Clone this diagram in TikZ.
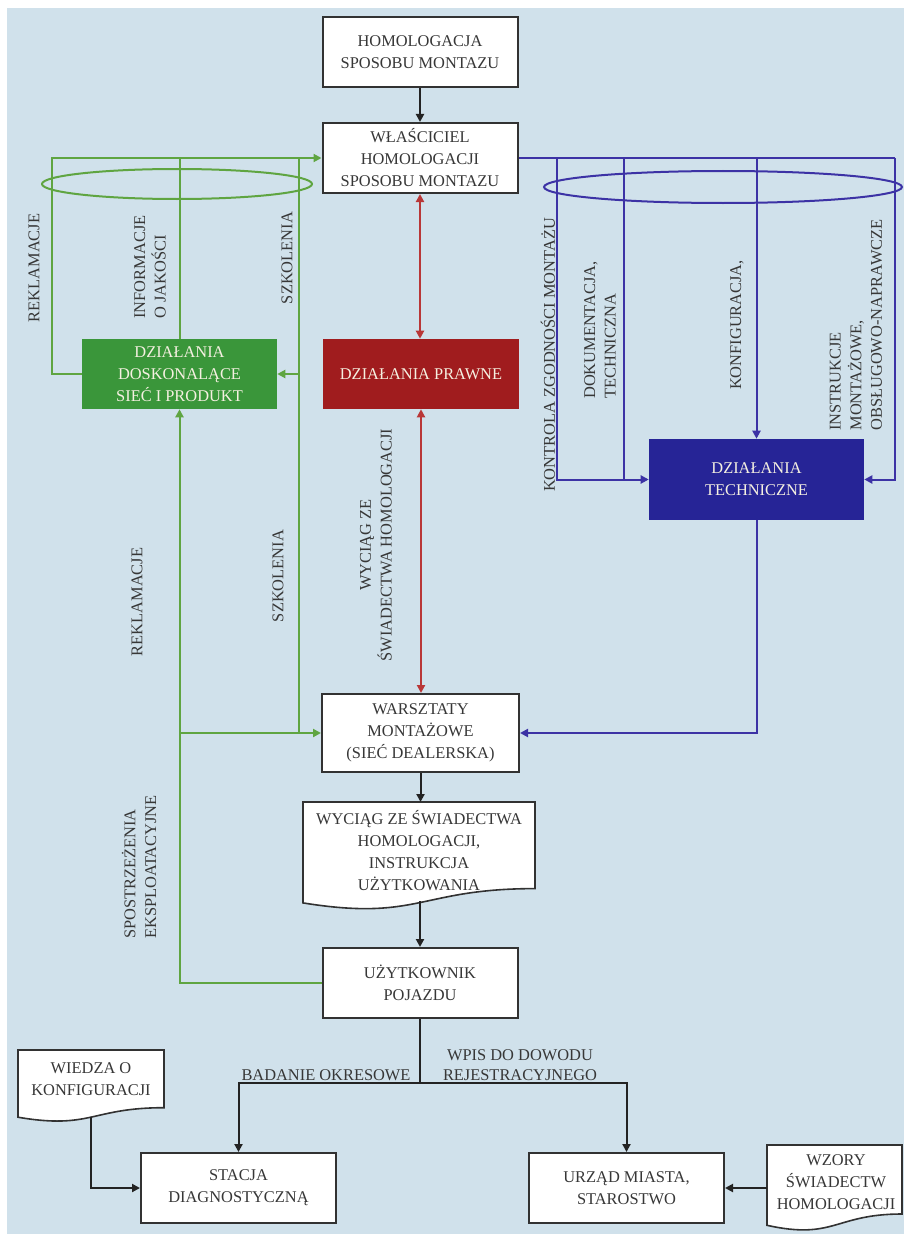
\documentclass[tikz,border=0pt]{standalone}
\usepackage{fontspec}
\setmainfont{Liberation Serif}
\usetikzlibrary{arrows.meta,calc}
\definecolor{bgc}{RGB}{208,225,235}
\definecolor{gboxc}{RGB}{58,150,58}
\definecolor{glinec}{RGB}{95,165,65}
\definecolor{rboxc}{RGB}{160,28,30}
\definecolor{rlinec}{RGB}{185,55,55}
\definecolor{bboxc}{RGB}{38,36,150}
\definecolor{blinec}{RGB}{60,50,165}
\definecolor{klinec}{RGB}{35,35,35}
\definecolor{borderc}{RGB}{50,50,50}
\definecolor{txtc}{RGB}{55,55,55}
\definecolor{lighttxtc}{RGB}{245,240,225}
\tikzset{
  mainfont/.style={font=\fontsize{12.3}{16.5}\selectfont},
  box/.style={draw=borderc, line width=1.5pt, fill=white, minimum width=146.25pt,
    minimum height=52.5pt, inner sep=0pt, align=center, text=txtc, mainfont},
  cbox/.style={draw=none, minimum width=146.25pt, minimum height=52.5pt, inner sep=0pt,
    align=center, text=lighttxtc, mainfont},
  docshape/.style={draw=borderc, line width=1.2pt, fill=white},
  doctext/.style={inner sep=0pt, align=center, text=txtc, mainfont},
  lab/.style={inner sep=0pt, text=txtc, rotate=90, font=\fontsize{12.3}{15.5}\selectfont},
  hlab/.style={inner sep=1pt, text=txtc, font=\fontsize{12.3}{15}\selectfont},
  arr/.style={-{Triangle[length=6pt,width=6pt]}},
  darr/.style={{Triangle[length=6pt,width=6pt]}-{Triangle[length=6pt,width=6pt]}},
  kpath/.style={draw=klinec, line width=1.5pt},
  gpath/.style={draw=glinec, line width=1.5pt},
  bpath/.style={draw=blinec, line width=1.5pt},
  rpath/.style={draw=rlinec, line width=1.5pt},
}
\begin{document}
\begin{tikzpicture}[x=0.75pt,y=-0.75pt]
\fill[white] (0,0) rectangle (904,1234);
\fill[bgc] (7,8) rectangle (904,1234);
\useasboundingbox (0,0) rectangle (904,1234);

% ellipses (behind)
\draw[gpath] (177,184) ellipse [x radius=101.25pt, y radius=11.25pt];
\draw[bpath] (723,187) ellipse [x radius=134.25pt, y radius=12pt];

% boxes
\node[box] (homol) at (420,52.5) {HOMOLOGACJA\\SPOSOBU MONTAZU};
\node[box] (owner) at (420,158) {WŁAŚCICIEL\\HOMOLOGACJI\\SPOSOBU MONTAZU};
\node[cbox, fill=gboxc] (green) at (179.5,374) {DZIAŁANIA\\DOSKONALĄCE\\SIEĆ I PRODUKT};
\node[cbox, fill=rboxc, minimum width=147pt] (legal) at (421,374) {DZIAŁANIA PRAWNE};
\node[cbox, fill=bboxc, minimum width=161.25pt, minimum height=60.75pt] (tech) at (756.5,479.5) {DZIAŁANIA\\TECHNICZNE};
\node[box, minimum width=147.75pt, minimum height=58.5pt] (works) at (420.5,733) {WARSZTATY\\MONTAŻOWE\\(SIEĆ DEALERSKA)};
\node[box] (user) at (420,983) {UŻYTKOWNIK\\POJAZDU};
\node[box] (stacja) at (238.5,1188) {STACJA\\DIAGNOSTYCZNĄ};
\node[box] (urzad) at (626.5,1188) {URZĄD MIASTA,\\STAROSTWO};

% documents
\draw[docshape] (303,802) -- (535,802) -- (535,888.6) .. controls (419,888.6) and (419,921.6) .. (303,902.9) -- cycle;
\node[doctext] (doc) at (419,851) {WYCIĄG ZE ŚWIADECTWA\\HOMOLOGACJI,\\INSTRUKCJA\\UŻYTKOWANIA};
\coordinate (doctop) at (420.5,802);
\coordinate (docbot) at (420,901);

\draw[docshape] (18,1050) -- (164,1050) -- (164,1107.7) .. controls (91,1107.7) and (91,1129.7) .. (18,1117.2) -- cycle;
\node[doctext] (wiedza) at (91,1079) {WIEDZA O\\KONFIGURACJI};
\coordinate (wiedzabot) at (91,1117);

\draw[docshape] (767,1145) -- (902,1145) -- (902,1214) .. controls (834.5,1214) and (834.5,1240.2) .. (767,1225.3) -- cycle;
\node[doctext] (wzory) at (836,1182) {WZORY\\ŚWIADECTW\\HOMOLOGACJI};
\coordinate (wzoryw) at (767,1188);

% black connectors
\draw[kpath,arr] (homol.south) -- (owner.north);
\draw[kpath,arr] (works.south) -- (doctop);
\draw[kpath,arr] (docbot) -- (user.north);
\coordinate (split) at (420,1083);
\draw[kpath] (user.south) -- (split);
\draw[kpath,arr] (split) -| (stacja.north);
\draw[kpath,arr] (split) -| (urzad.north);
\draw[kpath,arr] (wiedzabot) |- (stacja.west);
\draw[kpath,arr] (wzoryw) -- (urzad.east);

% red connectors
\draw[rpath,darr] (owner.south) -- (owner.south |- legal.north);
\draw[rpath,darr] (legal.south) -- (legal.south |- works.north);

% green connectors
\coordinate (gleft) at (52,158);
\coordinate (gmid) at (179.5,158);
\coordinate (gright) at (299,158);
\draw[gpath,arr] (green.west) -| (gleft) -- (owner.west);
\draw[gpath] (green.north) -- (gmid);
\draw[gpath,arr] (gright) |- (works.west);
\draw[gpath,arr] (gright |- green.east) -- (green.east);
\draw[gpath] (green.south |- works.west) -- (gright |- works.west);
\draw[gpath,arr] (user.west) -| (green.south);

% blue connectors
\coordinate (bA) at (557,158);
\coordinate (bB) at (624,158);
\coordinate (bC) at (756.5,158);
\coordinate (bD) at (895,158);
\draw[bpath] (owner.east) -- (bD);
\draw[bpath,arr] (bA) |- (tech.west);
\draw[bpath] (bB) -- (bB |- tech.west);
\draw[bpath,arr] (bC) -- (tech.north);
\draw[bpath,arr] (bD) |- (tech.east);
\draw[bpath,arr] (tech.south) |- (works.east);

% labels
\node[lab] (l1) at (34,268) {REKLAMACJE};
\node[lab, align=left] (l2) at (150,267) {INFORMACJE\\O JAKOŚCI};
\node[lab] (l3) at (287,258) {SZKOLENIA};
\node[lab] (l4) at (137,602) {REKLAMACJE};
\node[lab] (l5) at (278,576) {SZKOLENIA};
\node[lab, align=center] (l6) at (376,545) {WYCIĄG ZE\\ŚWIADECTWA HOMOLOGACJI};
\node[lab, align=left] (l7) at (139,867) {SPOSTRZEŻENIA\\EKSPLOATACYJNE};
\node[lab] (l8) at (548,355) {KONTROLA ZGODNOŚCI MONTAŻU};
\node[lab, align=left] (l9) at (600,330) {DOKUMENTACJA,\\TECHNICZNA};
\node[lab] (l10) at (737,325) {KONFIGURACJA,};
\node[lab, align=left] (l11) at (856,325) {INSTRUKCJE\\MONTAŻOWE,\\OBSŁUGOWO-NAPRAWCZE};
\node[hlab, anchor=south] (l12) at (326,1082) {BADANIE OKRESOWE};
\node[hlab, anchor=south, align=center] (l13) at (520,1082) {WPIS DO DOWODU\\REJESTRACYJNEGO};
\end{tikzpicture}
\end{document}
